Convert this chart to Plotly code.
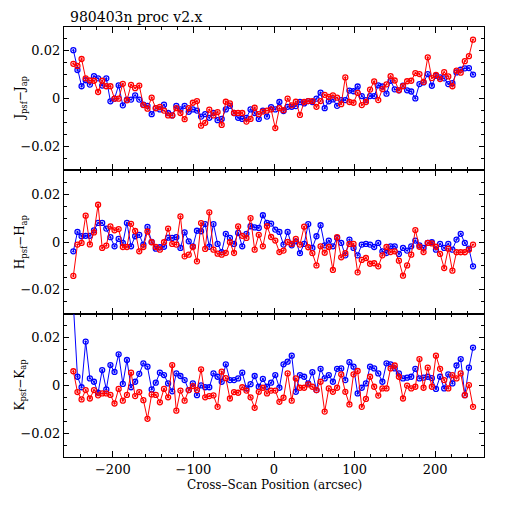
import plotly.graph_objects as go
from plotly.subplots import make_subplots

POSITIONS = [
    -249.0, -243.9, -238.8, -233.7, -228.5, -223.4, -218.3, -213.2, -208.1, -203.0,
    -197.9, -192.8, -187.6, -182.5, -177.4, -172.3, -167.2, -162.1, -157.0, -151.8,
    -146.7, -141.6, -136.5, -131.4, -126.3, -121.2, -116.1, -110.9, -105.8, -100.7,
    -95.6, -90.5, -85.4, -80.3, -75.1, -70.0, -64.9, -59.8, -54.7, -49.6,
    -44.5, -39.4, -34.2, -29.1, -24.0, -18.9, -13.8, -8.7, -3.6, 1.6,
    6.7, 11.8, 16.9, 22.0, 27.1, 32.2, 37.4, 42.5, 47.6, 52.7,
    57.8, 62.9, 68.0, 73.1, 78.3, 83.4, 88.5, 93.6, 98.7, 103.8,
    108.9, 114.1, 119.2, 124.3, 129.4, 134.5, 139.6, 144.7, 149.8, 155.0,
    160.1, 165.2, 170.3, 175.4, 180.5, 185.6, 190.8, 195.9, 201.0, 206.1,
    211.2, 216.3, 221.4, 226.5, 231.7, 236.8, 241.9, 247.0,
]

J_BLUE = [
    0.0203, 0.0120, 0.0052, 0.0077, 0.0059, 0.0094, 0.0085, 0.0055, 0.0085, -0.0011,
    0.0000, 0.0056, -0.0028, -0.0004, -0.0004, 0.0014, -0.0004, -0.0025, -0.0030, -0.0065,
    -0.0040, -0.0045, -0.0025, -0.0060, -0.0070, -0.0030, -0.0045, -0.0030, -0.0055, -0.0045,
    -0.0050, -0.0075, -0.0065, -0.0080, -0.0060, -0.0090, -0.0085, -0.0045, -0.0030, -0.0060,
    -0.0080, -0.0085, -0.0080, -0.0045, -0.0060, -0.0085, -0.0050, -0.0075,
    -0.0035, -0.0045, -0.0014, -0.0052, -0.0034, -0.0034, -0.0031, -0.0014, -0.0020, -0.0010,
    -0.0014, 0.0000, 0.0025, -0.0040, -0.0011, -0.0003, -0.0030, -0.0006, -0.0006, 0.0034,
    0.0031, 0.0051, 0.0011, -0.0006, 0.0011, 0.0011, 0.0056, 0.0051, 0.0021, 0.0075,
    0.0039, 0.0035, 0.0054, 0.0035, 0.0030, 0.0001, 0.0061, 0.0068, 0.0103, 0.0054,
    0.0096, 0.0089, 0.0085, 0.0061, 0.0065, 0.0110, 0.0121, 0.0127, 0.0128, 0.0101,
]
J_RED = [
    0.0146, 0.0137, 0.0166, 0.0085, 0.0076, 0.0075, 0.0028, 0.0075, 0.0052, 0.0052,
    0.0000, 0.0000, 0.0062, -0.0007, 0.0058, 0.0044, 0.0055, -0.0027, -0.0042, 0.0004,
    -0.0040, -0.0034, -0.0050, -0.0070, -0.0070, -0.0040, -0.0060, -0.0086, -0.0040, -0.0017,
    -0.0010, -0.0113, -0.0101, -0.0046, -0.0070, -0.0056, -0.0110, -0.0013, -0.0020, -0.0060,
    -0.0060, -0.0060, -0.0096, -0.0085, -0.0038, -0.0065, -0.0054, -0.0050,
    -0.0045, -0.0123, -0.0040, -0.0048, 0.0000, -0.0028, -0.0013, -0.0068, -0.0014, -0.0010,
    -0.0010, -0.0034, -0.0010, 0.0016, 0.0007, 0.0014, 0.0004, -0.0023, 0.0089, -0.0014,
    -0.0017, 0.0024, -0.0027, -0.0014, 0.0038, 0.0072, -0.0006, 0.0040, 0.0060, 0.0094,
    0.0076, 0.0035, 0.0052, 0.0073, 0.0075, 0.0107, 0.0103, 0.0070, 0.0173, 0.0086,
    0.0099, 0.0082, 0.0111, 0.0093, 0.0052, 0.0117, 0.0109, 0.0157, 0.0178, 0.0247,
]

H_BLUE = [
    -0.0039, 0.0042, 0.0024, 0.0026, 0.0026, 0.0049, 0.0080, 0.0080, 0.0056, 0.0020,
    -0.0018, 0.0013, -0.0004, 0.0080, -0.0018, 0.0024, 0.0030, -0.0011, 0.0063, 0.0000,
    -0.0028, -0.0022, -0.0020, 0.0018, 0.0017, 0.0020, -0.0025, 0.0040, 0.0003, -0.0018,
    0.0047, 0.0045, 0.0075, -0.0020, 0.0075, -0.0008, -0.0042, 0.0034, 0.0017, -0.0008,
    0.0038, -0.0018, 0.0034, 0.0066, 0.0061, 0.0059, 0.0112, 0.0080, 0.0077, 0.0052,
    0.0042, -0.0011, 0.0042, -0.0014, 0.0003, -0.0047, -0.0008, 0.0075, -0.0025, 0.0024,
    0.0070, -0.0014, 0.0006, -0.0018, 0.0017, -0.0004, -0.0056, 0.0010, -0.0025, -0.0056,
    -0.0011, -0.0008, -0.0011, -0.0021, -0.0004, -0.0039, -0.0046, -0.0018, -0.0018, -0.0050,
    -0.0025, -0.0036, -0.0018, 0.0006, -0.0014, -0.0025, -0.0004, -0.0001, -0.0032, -0.0008,
    -0.0025, -0.0008, -0.0032, 0.0010, 0.0034, -0.0004, -0.0028, -0.0102,
]
H_RED = [
    -0.0142, -0.0011, -0.0004, 0.0110, -0.0010, 0.0040, 0.0156, -0.0025, -0.0015, 0.0065,
    0.0049, 0.0054, -0.0021, -0.0021, 0.0076, 0.0046, -0.0039, -0.0021, 0.0044, -0.0001,
    -0.0021, -0.0032, -0.0001, 0.0056, -0.0008, -0.0011, 0.0107, -0.0060, -0.0053, -0.0021,
    -0.0081, 0.0079, -0.0029, 0.0124, -0.0032, -0.0049, -0.0053, -0.0046, -0.0001, -0.0046,
    0.0065, 0.0026, 0.0017, 0.0100, -0.0032, 0.0030, -0.0018, 0.0066,
    0.0021, 0.0006, -0.0042, -0.0036, 0.0000, -0.0008, 0.0013, -0.0011, 0.0064, -0.0022,
    -0.0047, -0.0098, -0.0018, -0.0045, -0.0021, -0.0117, 0.0020, -0.0064, -0.0047, -0.0008,
    -0.0008, -0.0127, -0.0075, -0.0067, -0.0091, -0.0089, -0.0102, -0.0056, -0.0021, -0.0042,
    -0.0039, -0.0078, -0.0141, -0.0098, -0.0053, 0.0050, -0.0020, -0.0042, -0.0004, -0.0006,
    -0.0020, -0.0050, -0.0109, -0.0028, -0.0120, -0.0043, -0.0043, -0.0043, -0.0032, -0.0011,
]

K_BLUE = [
    0.0340, 0.0036, -0.0008, 0.0183, 0.0029, 0.0015, -0.0031, 0.0064, -0.0017, 0.0085,
    0.0056, 0.0130, 0.0006, 0.0106, -0.0008, 0.0015, 0.0048, 0.0092, 0.0078, -0.0017,
    0.0011, 0.0053, 0.0043, 0.0008, -0.0025, 0.0050, 0.0039, 0.0022, -0.0020, 0.0008,
    -0.0041, 0.0000, -0.0008, -0.0008, 0.0050, 0.0036, 0.0015, 0.0088, 0.0022, 0.0022,
    0.0029, 0.0053, -0.0013, 0.0005, 0.0039, -0.0006, 0.0027, -0.0006, 0.0011, 0.0043,
    -0.0010, 0.0088, 0.0099, 0.0124, -0.0027, 0.0043, 0.0036, 0.0008, 0.0055, -0.0020,
    0.0069, 0.0029, 0.0043, 0.0015, 0.0069, 0.0071, 0.0022, 0.0097, 0.0078, -0.0034,
    -0.0010, 0.0008, 0.0078, 0.0071, 0.0050, 0.0015, 0.0092, 0.0088, 0.0071, 0.0050,
    0.0029, 0.0032, 0.0036, 0.0069, 0.0029, 0.0032, 0.0036, 0.0030, -0.0015, 0.0036,
    -0.0013, 0.0046, 0.0008, 0.0083, 0.0110, -0.0041, 0.0074, 0.0158,
]
K_RED = [
    0.0059, -0.0028, -0.0059, -0.0020, -0.0055, -0.0020, -0.0042, -0.0034, -0.0034, -0.0040,
    -0.0076, -0.0015, -0.0064, -0.0040, 0.0053, -0.0045, -0.0028, -0.0062, -0.0140, -0.0038,
    -0.0040, -0.0071, -0.0015, -0.0050, 0.0085, -0.0106, -0.0022, -0.0064, -0.0020, -0.0003,
    -0.0020, 0.0067, -0.0050, -0.0045, -0.0042, -0.0090, 0.0057, 0.0030, -0.0055, -0.0028,
    -0.0031, -0.0008, -0.0022, -0.0050, -0.0094, -0.0027, -0.0010, -0.0034, -0.0022, -0.0022,
    -0.0069, -0.0052, 0.0050, -0.0064, 0.0029, -0.0010, -0.0010, 0.0004, -0.0006, -0.0020,
    0.0015, -0.0110, -0.0013, -0.0027, -0.0010, 0.0046, -0.0027, -0.0080, 0.0046, 0.0060,
    -0.0090, -0.0057, 0.0036, -0.0006, -0.0043, -0.0013, -0.0013, 0.0071, 0.0083, 0.0036,
    -0.0055, -0.0001, -0.0013, -0.0006, 0.0110, -0.0010, 0.0074, -0.0006, 0.0124, 0.0069,
    0.0022, -0.0013, 0.0043, 0.0029, 0.0050, -0.0041, 0.0001, -0.0090,
]

TITLE = "980403n proc v2.x"
Y_LABELS = ["J<sub>psf</sub>\u2212J<sub>ap</sub>",
            "H<sub>psf</sub>\u2212H<sub>ap</sub>",
            "K<sub>psf</sub>\u2212K<sub>ap</sub>"]
X_LABEL = "Cross\u2013Scan Position (arcsec)"
X_TICKS = [-200, -100, 0, 100, 200]
X_TICK_TEXT = ["\u2212200", "\u2212100", "0", "100", "200"]
Y_TICKS = [-0.02, 0, 0.02]
Y_TICK_TEXT = ["\u22120.02", "0", "0.02"]

PANELS = [(J_BLUE, J_RED), (H_BLUE, H_RED), (K_BLUE, K_RED)]

FONT = "DejaVu Serif"

fig = make_subplots(rows=3, cols=1, shared_xaxes=True, vertical_spacing=0)

for r, (blue, red) in enumerate(PANELS, start=1):
    for vals, col in ((blue, "#0000ff"), (red, "#ff0000")):
        fig.add_trace(go.Scatter(
            x=POSITIONS, y=vals, mode="lines+markers",
            line=dict(color=col, width=1),
            marker=dict(symbol="circle-open-dot", size=5, color=col,
                        line=dict(color=col, width=1.3)),
            showlegend=False, cliponaxis=True,
        ), row=r, col=1)

axis_common = dict(
    showline=True, linecolor="black", linewidth=1.2, mirror="allticks",
    ticks="inside", tickcolor="black", showgrid=False, zeroline=False,
    tickfont=dict(family=FONT, size=13, color="black"),
)

for r in range(1, 4):
    fig.update_xaxes(
        range=[-260.6, 260.6], tickvals=X_TICKS, ticktext=X_TICK_TEXT,
        ticklen=6, tickwidth=1,
        minor=dict(dtick=20, tick0=0, ticklen=3, ticks="inside", tickcolor="black"),
        showticklabels=(r == 3), row=r, col=1, **axis_common)
    fig.update_yaxes(
        range=[-0.03, 0.03], tickvals=Y_TICKS, ticktext=Y_TICK_TEXT,
        ticklen=5, tickwidth=1,
        minor=dict(dtick=0.005, tick0=0, ticklen=3, ticks="inside", tickcolor="black"),
        row=r, col=1, **axis_common)

annotations = [
    dict(text=TITLE, xref="paper", yref="paper", x=0.01, y=1.0, xanchor="left",
         yanchor="bottom", showarrow=False, yshift=0,
         font=dict(family=FONT, size=14, color="black")),
    dict(text=X_LABEL, xref="paper", yref="paper", x=0.5, y=-0.066,
         xanchor="center", yanchor="middle", showarrow=False,
         font=dict(family=FONT, size=12, color="black")),
]
for i, lab in enumerate(Y_LABELS):
    annotations.append(dict(
        text=lab, xref="paper", yref="paper", x=-0.102, y=1 - (i + 0.5) / 3,
        xanchor="center", yanchor="middle", textangle=-90, showarrow=False,
        font=dict(family=FONT, size=12, color="black")))

# the page adds an 8px body margin, so margins are reduced by 8px on left/top
fig.update_layout(
    width=512, height=512,
    margin=dict(l=46, r=36, t=19, b=63),
    paper_bgcolor="white", plot_bgcolor="white",
    annotations=annotations,
)

fig.write_html("out.html")
